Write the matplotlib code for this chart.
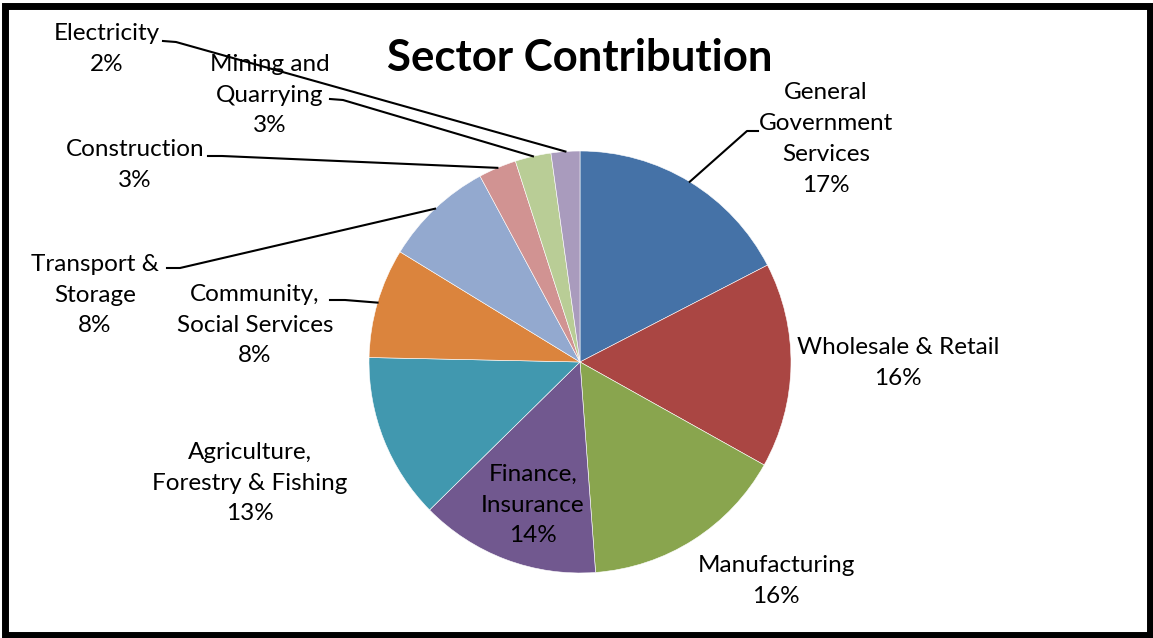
import numpy as np
import matplotlib
matplotlib.use("Agg")
import matplotlib.pyplot as plt
from matplotlib.patches import Rectangle

# Data (shares, clockwise from 12 o'clock)
sectors = ["General\nGovernment\nServices", "Wholesale & Retail", "Manufacturing",
           "Finance,\nInsurance", "Agriculture,\nForestry & Fishing",
           "Community,\nSocial Services", "Transport &\nStorage", "Construction",
           "Mining and\nQuarrying", "Electricity"]
shares = [17.4, 15.7, 15.7, 13.8, 12.7, 8.4, 8.4, 2.9, 2.75, 2.2]
colors = ["#4572A7", "#AA4643", "#89A54E", "#71588F", "#4198AF",
          "#DB843D", "#93A9CF", "#D19392", "#B9CD96", "#A99BBD"]

W, H = 1153, 638
CX, CY, R = 580, 362, 211

# label layout in image pixels (x, y of text block centre)
label_pos = [(826, 139), (898, 363), (776, 581), (533, 505), (250, 483),
             (255, 325), (95, 295), (135, 165), (270, 95), (107, 49)]
# leader line start + elbow (image pixels), None = no leader
leaders = [[(758, 131), (747, 131)], None, None, None, None,
           [(330, 300), (345, 300)], [(167, 268), (180, 268)],
           [(208, 156), (222, 156)], [(330, 99), (343, 100)],
           [(163, 41), (176, 42)]]

FONT = "Lato"


def flip(y):
    return H - y


fig = plt.figure(figsize=(W / 100, H / 100), dpi=100)
ax = fig.add_axes([0, 0, 1, 1])

wedges, _ = ax.pie(shares, colors=colors, startangle=90, counterclock=False,
                   center=(CX, flip(CY)), radius=R, frame=True,
                   wedgeprops=dict(edgecolor="white", linewidth=0.4))
ax.set_xlim(0, W)
ax.set_ylim(0, H)
ax.axis("off")

total = sum(shares)
for i, (name, val) in enumerate(zip(sectors, shares)):
    pct = round(val / total * 100)
    x, y = label_pos[i]
    ax.text(x, flip(y), f"{name}\n{pct}%", ha="center", va="center",
            fontsize=17.5, family=FONT, linespacing=1.58, color="black")
    if leaders[i] is not None:
        w = wedges[i]
        mid = np.deg2rad((w.theta1 + w.theta2) / 2)
        px = CX + R * np.cos(mid)
        py = flip(CY) + R * np.sin(mid)
        xs = [p[0] for p in leaders[i]] + [px]
        ys = [flip(p[1]) for p in leaders[i]] + [py]
        ax.plot(xs, ys, color="black", linewidth=1.5)

ax.text(580, flip(58), "Sector Contribution", ha="center", va="center",
        fontsize=31.5, fontweight="bold", family=FONT)

# black frame around the chart
fig.patches.append(Rectangle((0.004, 0.005), 0.993, 0.985, transform=fig.transFigure,
                             fill=False, edgecolor="black", linewidth=5))

fig.savefig("out.png", dpi=100, facecolor="white")
